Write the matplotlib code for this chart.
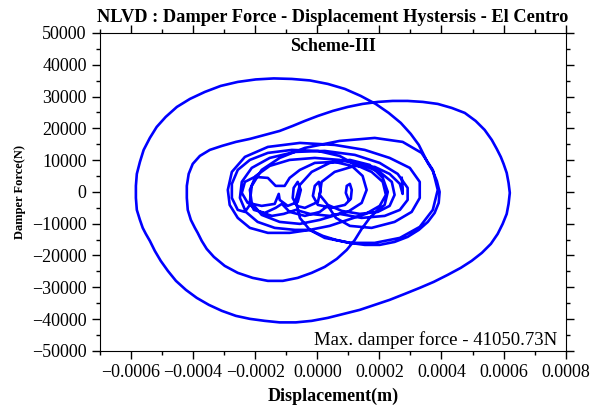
import matplotlib
matplotlib.use('Agg')
import matplotlib.pyplot as plt
from matplotlib.ticker import MultipleLocator
import numpy as np

plt.rcParams['font.family'] = ['Liberation Serif', 'DejaVu Serif']

# damper displacement (x 1e-4 m) and force (kN) in order
disp_start = [
    1.01, 0.92, 0.95, 1.05, 1.11, 1.08, 0.89, 0.47, 0.02, -0.14, -0.08, 0.05, 0.11, 0.02,
    -0.40, -0.66, -0.79, -0.76, -0.63, -0.53, -0.63, -0.95, -1.21, -1.24, -1.37, -1.79,
    -2.24, -2.43, -2.33, -2.01, -1.59, -1.34, -1.05, -0.89, -0.56, -0.08, 0.56, 1.11,
    1.46, 1.59, 1.43, 0.98, 0.40, -0.24, -0.69, -1.08, -1.46, -1.85, -2.17, -2.33, -2.56,
    -2.75, -2.75, -2.56, -2.17, -1.59, -0.82, 0.02, 0.72, 1.24, 1.75, 2.11, 2.21, 2.01,
    1.56, 0.98, 0.40, -0.24, -0.89, -1.59, -2.17, -2.56, -2.82, -2.88, -2.75, -2.33,
    -1.59, -0.56, 0.56, 1.53, 2.33, 2.98, 3.30, 3.30, 3.04, 2.49, 1.75, 1.05, 0.60, 0.34,
    0.08, -0.40, -0.89, -1.14, -1.34, -1.69, -2.04, -2.17, -2.11, -1.79, -1.21, -0.40,
    0.72, 1.85, 2.75, 3.36, 3.72, 3.88, 3.72, 3.30, 2.66, 1.85, 1.05, 0.24, -0.24, -0.56,
    -0.69, -0.56, -0.18, 0.40, 1.05, 1.69, 2.11, 2.27,
]
force_start = [
    -2.52, -0.31, 1.89, 2.52, 0.63, -2.20, -4.09, -5.03, -4.09, -1.26, 1.89, 3.15, 0.63,
    -3.15, -5.03, -4.40, -1.89, 1.26, 3.15, 0.63, -3.15, -4.40, -2.52, -0.63, -3.77, -4.40,
    -3.46, -0.31, 3.15, 4.72, 4.40, 1.89, 1.89, 4.40, 6.92, 9.12, 9.44, 8.18, 5.03, 0.63,
    -3.46, -6.29, -7.55, -6.92, -5.66, -6.92, -7.55, -6.29, -4.09, -6.29, -5.66, -1.89,
    2.52, 6.92, 10.06, 12.27, 13.21, 12.89, 11.32, 8.49, 6.29, 3.15, -0.94, -4.40, -6.92,
    -8.81, -10.69, -11.95, -12.89, -12.89, -11.32, -8.18, -4.09, 0.63, 6.29, 11.01, 14.15,
    15.41, 14.78, 13.21, 10.69, 7.55, 3.15, -1.89, -6.29, -9.44, -11.32, -10.69, -8.18,
    -4.40, -6.29, -7.55, -6.29, -3.77, -5.03, -6.60, -5.66, -3.15, 1.89, 6.92, 10.69,
    13.84, 16.04, 16.98, 15.73, 12.27, 6.92, 0.63, -5.66, -11.01, -14.47, -16.04, -16.04,
    -14.47, -11.95, -8.18, -2.52, 2.20, 6.29, 9.12, 10.06, 8.49, 4.40, 0.0,
]

# the large cycles around the peak of the record
disp_peak = [
    2.17, 1.95, 1.69, 1.43, 1.21, 0.95, 0.63, 0.24, -0.18, -0.63, -1.11, -1.59, -2.08,
    -2.56, -2.98, -3.33, -3.56, -3.72, -3.85, -3.94, -4.07, -4.17, -4.20, -4.20, -4.14,
    -4.01, -3.78, -3.46, -3.07, -2.62, -2.17, -1.69, -1.21, -0.79, -0.40, 0.02, 0.50,
    0.98, 1.46, 1.95, 2.43, 2.91, 3.40, 3.88, 4.33, 4.75, 5.10, 5.39, 5.62, 5.78, 5.91,
    6.00, 6.10, 6.16, 6.20, 6.16, 6.10, 5.97, 5.81, 5.59, 5.30, 4.97, 4.62, 4.20, 3.75,
    3.30, 2.82, 2.33, 1.85, 1.37, 0.85, 0.34, -0.18, -0.69, -1.21, -1.69, -2.17, -2.62,
    -3.07, -3.49, -3.88, -4.23, -4.55, -4.81, -5.04, -5.23, -5.39, -5.52, -5.62, -5.71,
    -5.81, -5.84, -5.84, -5.81, -5.71, -5.59, -5.39, -5.17, -4.88, -4.52, -4.10, -3.62,
    -3.11, -2.56, -1.98, -1.40, -0.82, -0.24, 0.34, 0.89, 1.40, 1.88, 2.30, 2.69, 3.01,
    3.27, 3.43, 3.56, 3.72, 3.85, 3.94, 3.91, 3.78, 3.56, 3.27, 2.91, 2.49, 2.01, 1.53,
    1.05, 0.60, 0.18, -0.24,
]
force_peak = [
    -4.09, -5.66, -8.18, -11.64, -15.10, -18.24, -21.07, -23.59, -25.47, -27.05, -27.99,
    -27.99, -27.05, -25.47, -23.27, -20.44, -17.93, -15.41, -12.89, -11.32, -8.81, -5.66,
    -1.89, 1.89, 5.66, 8.81, 11.32, 13.21, 14.47, 15.73, 16.67, 17.93, 19.18, 20.76,
    22.33, 23.90, 25.47, 26.73, 27.68, 28.31, 28.62, 28.62, 28.31, 27.68, 26.42, 24.85,
    22.33, 19.50, 16.35, 13.52, 11.01, 8.81, 5.98, 2.83, -0.31, -3.77, -6.92, -10.06,
    -13.21, -16.35, -19.18, -21.70, -23.90, -26.10, -28.31, -30.19, -32.08, -33.97,
    -35.54, -37.11, -38.37, -39.63, -40.57, -41.05, -41.05, -40.57, -39.94, -39.00,
    -37.43, -35.54, -33.34, -30.82, -27.99, -24.85, -21.70, -18.56, -15.41, -13.21,
    -11.32, -8.81, -5.66, -1.89, 1.89, 5.66, 9.44, 13.21, 16.98, 20.44, 23.59, 26.73,
    29.25, 31.45, 33.34, 34.60, 35.38, 35.70, 35.54, 35.07, 33.97, 32.39, 30.19, 27.68,
    24.85, 21.70, 18.24, 14.78, 11.64, 9.12, 6.60, 3.46, 0.0, -3.46, -6.60, -9.44, -11.95,
    -14.15, -15.73, -16.67, -16.67, -16.04, -15.10, -13.84, -11.95,
]

# decaying tail of the response
disp_end = [
    -0.72, -1.37, -1.92, -2.30, -2.49, -2.43, -2.11, -1.53, -0.72, 0.24, 1.21, 2.01, 2.59,
    2.91, 2.91, 2.66, 2.17, 1.43, 0.72, 0.08, -0.56, -1.21, -1.79, -2.11, -2.17, -1.98,
    -1.53, -0.89, -0.08, 0.72, 1.43, 2.01, 2.40, 2.49, 2.33, 1.95, 1.37, 0.79, 0.34, 0.08,
    0.14, 0.56, 1.21, 1.85, 2.33, 2.66, 2.75, 2.75, 2.72,
]
force_end = [
    -11.95, -11.32, -9.44, -6.29, -1.89, 3.15, 7.55, 10.69, 12.58, 12.89, 11.64, 9.12,
    5.66, 1.26, -2.52, -5.66, -7.55, -8.18, -6.92, -8.81, -10.06, -9.44, -7.23, -3.46,
    0.63, 5.03, 8.18, 10.06, 10.69, 10.06, 8.49, 6.29, 3.15, -0.94, -4.40, -6.29, -6.92,
    -5.98, -4.09, -0.94, 3.15, 6.29, 8.18, 7.86, 5.66, 2.52, -0.63, 1.26, 4.40,
]

max_force = 41050.73

disp = np.array(disp_start + disp_peak + disp_end) * 1e-4
force = np.array(force_start + force_peak + force_end) * 1000

fig = plt.figure(figsize=(5.98, 4.07), dpi=100)
ax = fig.add_axes([0.167, 0.138, 0.779, 0.781])

ax.plot(disp, force, color='#0000ff', lw=1.9, solid_joinstyle='round')

ax.set_xlim(-0.0007, 0.0008)
ax.set_ylim(-50000, 50000)
ax.xaxis.set_major_locator(MultipleLocator(0.0002))
ax.xaxis.set_minor_locator(MultipleLocator(0.0001))
ax.yaxis.set_major_locator(MultipleLocator(10000))
ax.yaxis.set_minor_locator(MultipleLocator(5000))
ax.xaxis.set_major_formatter(plt.FuncFormatter(lambda v, p: f"{v:.4f}".replace('-', '\u2212')))
ax.tick_params(which='both', direction='out', top=True, right=True, labelsize=13, width=1)
ax.tick_params(which='major', length=6)
ax.tick_params(which='minor', length=3)

ax.set_title("NLVD : Damper Force - Displacement Hystersis - El Centro",
             fontsize=13.2, fontweight='bold', pad=8)
ax.set_xlabel("Displacement(m)", fontsize=13, fontweight='bold', labelpad=5)
ax.set_ylabel("Damper Force(N)", fontsize=9, fontweight='bold', labelpad=4)

ax.text(0.5, 0.956, "Scheme-III", transform=ax.transAxes, ha='center', va='center',
        fontsize=13, fontweight='bold')
ax.text(0.981, 0.035, f"Max. damper force - {max_force:.2f}N", transform=ax.transAxes,
        ha='right', va='center', fontsize=13.5)

fig.savefig("out.png", dpi=100)
